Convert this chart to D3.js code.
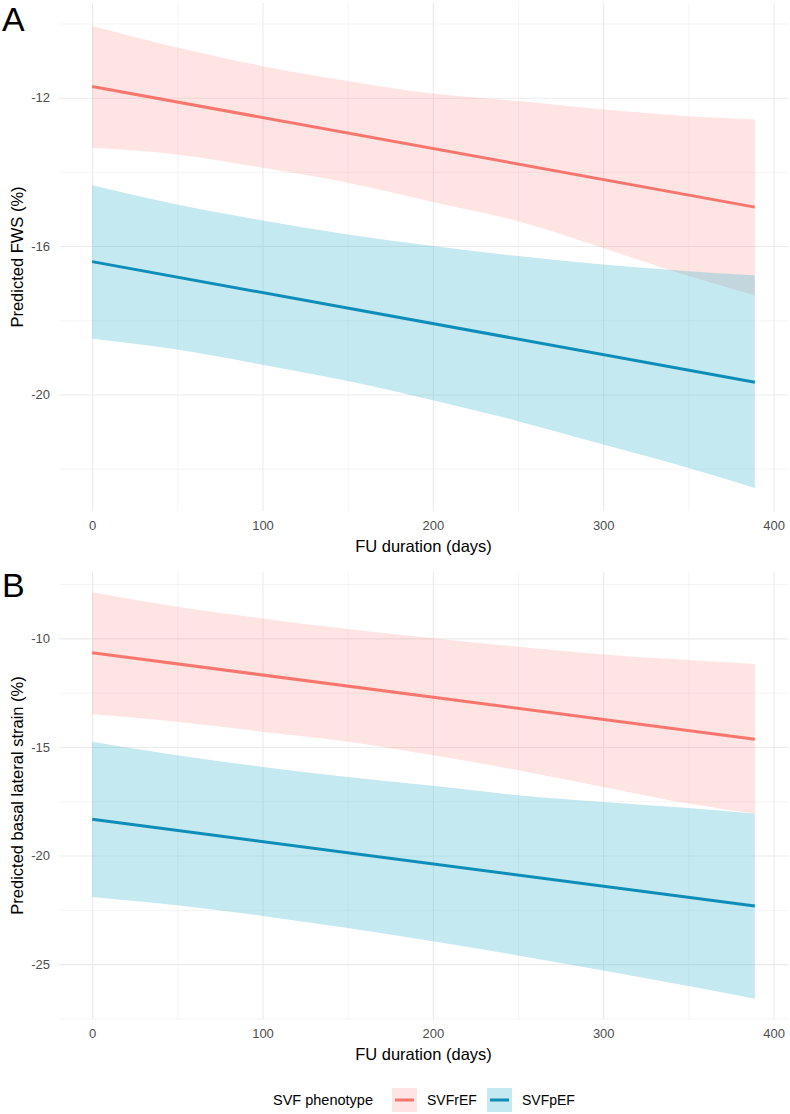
<!DOCTYPE html>
<html>
<head>
<meta charset="utf-8">
<script src="https://cdn.jsdelivr.net/npm/d3@7"></script>
<style>
  body { margin: 0; background: #fff; }
  svg { display: block; font-family: "Liberation Sans", Arial, Helvetica, sans-serif; }
  .grid line { stroke: #ebebeb; }
  .grid path { display: none; }
  .tk text { fill: #4d4d4d; font-size: 13px; }
  .tk path, .tk line { display: none; }
</style>
</head>
<body>
<svg id="chart" width="790" height="1114"></svg>
<script>
// follow-up days where the band edges were read
var fuDays = [0, 50, 100, 150, 200, 250, 300, 350, 389];
var fitDays = [0, 389];

var groups = ["SVFrEF", "SVFpEF"];
var lineColors = ["#F8766D", "#0E8DB8"];
var fillColors = ["#F8766D", "#3EB6D0"];
var fillAlpha = [0.2, 0.3];

var xTicks = [0, 100, 200, 300, 400];
var xMinor = [50, 150, 250, 350];

// panel A - FWS
var fwsRrFit = [-11.70, -14.95];
var fwsRrHi = [-10.07, -10.65, -11.15, -11.55, -11.89, -12.09, -12.32, -12.50, -12.59];
var fwsRrLo = [-13.35, -13.53, -13.89, -14.29, -14.81, -15.33, -16.05, -16.81, -17.33];
var fwsPFit = [-16.42, -19.67];
var fwsPHi = [-14.36, -14.88, -15.31, -15.69, -16.00, -16.27, -16.50, -16.68, -16.79];
var fwsPLo = [-18.50, -18.79, -19.20, -19.64, -20.16, -20.72, -21.35, -21.98, -22.52];
var fwsTicks = [-20, -16, -12];
var fwsMinor = [-22, -18, -14, -10];

// panel B - basal lateral strain
var blsRrFit = [-10.66, -14.65];
var blsRrHi = [-7.88, -8.54, -9.08, -9.57, -9.99, -10.39, -10.74, -11.00, -11.18];
var blsRrLo = [-13.49, -13.84, -14.30, -14.76, -15.38, -16.07, -16.84, -17.60, -18.06];
var blsPFit = [-18.33, -22.32];
var blsPHi = [-14.76, -15.38, -15.92, -16.38, -16.79, -17.22, -17.53, -17.81, -18.06];
var blsPLo = [-21.91, -22.29, -22.78, -23.34, -23.95, -24.60, -25.29, -26.01, -26.59];
var blsTicks = [-25, -20, -15, -10];
var blsMinor = [-27.5, -22.5, -17.5, -12.5, -7.5];

var svg = d3.select("#chart");
var left = 59, right = 788;

function expand(lo, hi) {
  var e = (hi - lo) * 0.05;
  return [lo - e, hi + e];
}

var x = d3.scaleLinear().domain(expand(d3.min(fuDays), d3.max(fuDays))).range([left, right]);

function drawPanel(p) {
  var allY = p.hi[0].concat(p.hi[1], p.lo[0], p.lo[1]);
  var y = d3.scaleLinear().domain(expand(d3.min(allY), d3.max(allY))).range([p.bottom, p.top]);
  var g = svg.append("g");
  var h = p.bottom - p.top, w = right - left;

  // grid: minor then major
  g.append("g").attr("class", "grid").attr("transform", "translate(0," + p.bottom + ")")
    .call(d3.axisBottom(x).tickValues(xMinor).tickSize(-h).tickFormat(""))
    .selectAll("line").attr("stroke-width", 0.55);
  g.append("g").attr("class", "grid").attr("transform", "translate(" + left + ",0)")
    .call(d3.axisLeft(y).tickValues(p.minor).tickSize(-w).tickFormat(""))
    .selectAll("line").attr("stroke-width", 0.55);
  g.append("g").attr("class", "grid").attr("transform", "translate(0," + p.bottom + ")")
    .call(d3.axisBottom(x).tickValues(xTicks).tickSize(-h).tickFormat(""))
    .selectAll("line").attr("stroke-width", 1.1);
  g.append("g").attr("class", "grid").attr("transform", "translate(" + left + ",0)")
    .call(d3.axisLeft(y).tickValues(p.ticks).tickSize(-w).tickFormat(""))
    .selectAll("line").attr("stroke-width", 1.1);

  // ribbons
  var area = d3.area()
    .x(function(d, i) { return x(fuDays[i]); })
    .y0(function(d) { return y(d[0]); })
    .y1(function(d) { return y(d[1]); })
    .curve(d3.curveMonotoneX);
  for (var k = 0; k < groups.length; k++) {
    var band = d3.zip(p.lo[k], p.hi[k]);
    g.append("path").datum(band).attr("d", area)
      .attr("fill", fillColors[k]).attr("fill-opacity", fillAlpha[k]);
  }
  // fitted lines
  var line = d3.line()
    .x(function(d, i) { return x(fitDays[i]); })
    .y(function(d) { return y(d); });
  for (var k = 0; k < groups.length; k++) {
    g.append("path").datum(p.fit[k]).attr("d", line)
      .attr("fill", "none").attr("stroke", lineColors[k]).attr("stroke-width", 3);
  }

  // tick labels
  g.append("g").attr("class", "tk").attr("transform", "translate(" + left + ",0)")
    .call(d3.axisLeft(y).tickValues(p.ticks).tickSize(0).tickPadding(9).tickFormat(String))
    .call(function(s) { s.select(".domain").remove(); });
  g.append("g").attr("class", "tk").attr("transform", "translate(0," + p.bottom + ")")
    .call(d3.axisBottom(x).tickValues(xTicks).tickSize(0).tickPadding(10))
    .call(function(s) { s.select(".domain").remove(); });

  // titles
  g.append("text").attr("x", (left + right) / 2).attr("y", p.bottom + 41)
    .attr("text-anchor", "middle").style("font-size", "16.5px").text("FU duration (days)");
  g.append("text")
    .attr("transform", "translate(23," + ((p.top + p.bottom) / 2) + ") rotate(-90)")
    .attr("text-anchor", "middle").style("font-size", "16.5px").text(p.ytitle);
  g.append("text").attr("x", 2).attr("y", p.tagY)
    .style("font-size", "34px").text(p.tag);
}

drawPanel({
  top: 3, bottom: 511, tag: "A", tagY: 31,
  ytitle: "Predicted FWS (%)",
  fit: [fwsRrFit, fwsPFit], hi: [fwsRrHi, fwsPHi], lo: [fwsRrLo, fwsPLo],
  ticks: fwsTicks, minor: fwsMinor
});
drawPanel({
  top: 572, bottom: 1019, tag: "B", tagY: 597,
  ytitle: "Predicted basal lateral strain (%)",
  fit: [blsRrFit, blsPFit], hi: [blsRrHi, blsPHi], lo: [blsRrLo, blsPLo],
  ticks: blsTicks, minor: blsMinor
});

// legend
var leg = svg.append("g").attr("transform", "translate(0,1100)");
leg.append("text").attr("x", 273).attr("y", 5).style("font-size", "14.5px").text("SVF phenotype");
var keyX = [392, 487];
groups.forEach(function(name, k) {
  leg.append("rect").attr("x", keyX[k]).attr("y", -12).attr("width", 25).attr("height", 24)
    .attr("fill", fillColors[k]).attr("fill-opacity", fillAlpha[k]);
  leg.append("line").attr("x1", keyX[k] + 3).attr("x2", keyX[k] + 22).attr("y1", 0).attr("y2", 0)
    .attr("stroke", lineColors[k]).attr("stroke-width", 3);
  leg.append("text").attr("x", keyX[k] + 35).attr("y", 5).style("font-size", "14px").text(name);
});
</script>
</body>
</html>
